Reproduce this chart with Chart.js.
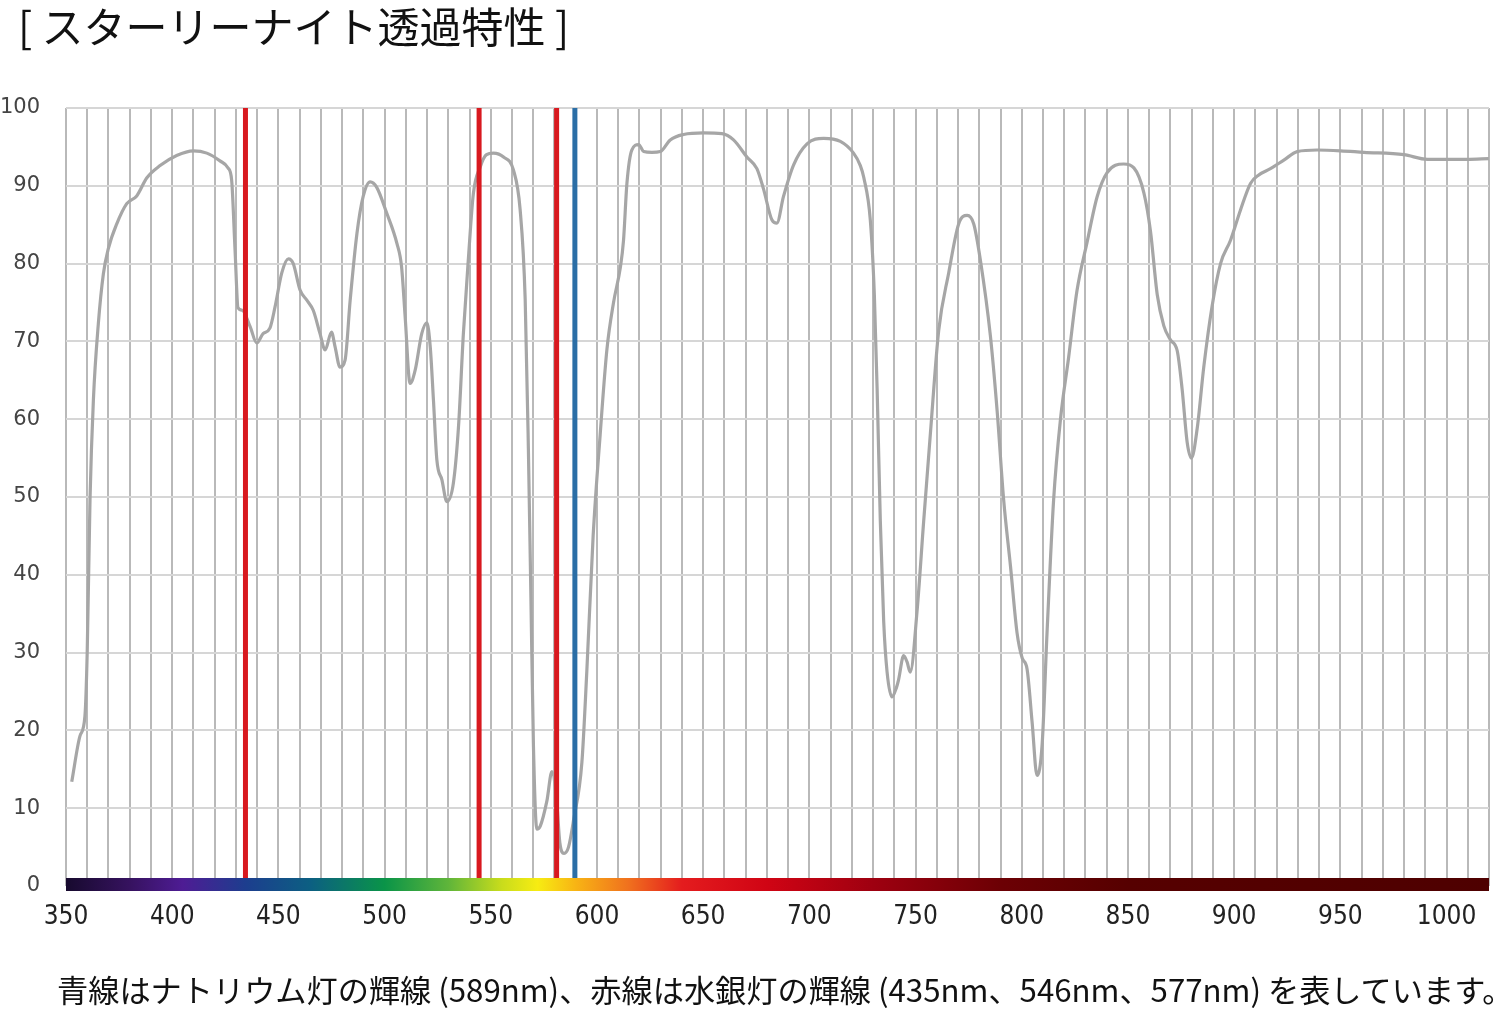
<!DOCTYPE html>
<html>
<head>
<meta charset="utf-8">
<script src="https://cdn.jsdelivr.net/npm/chart.js@4.4.1/dist/chart.umd.min.js"></script>
<style>
  html, body { margin: 0; padding: 0; background: #ffffff; }
  #wrap { position: relative; width: 1500px; height: 1009px; overflow: hidden; }
  #c { position: absolute; left: 0; top: 0; }
  #title { position: absolute; left: 18px; top: 0px; font-family: "Noto Sans CJK JP", sans-serif; font-size: 42px; line-height: 50px; color: #111; white-space: nowrap; }
  #note { position: absolute; left: 57px; top: 969px; font-family: "Noto Sans CJK JP", sans-serif; font-size: 31.2px; line-height: 40px; color: #111; white-space: nowrap; }
</style>
</head>
<body>
<div id="wrap">
  <canvas id="c" width="1500" height="1009"></canvas>
  <div id="title">[ スターリーナイト透過特性 ]</div>
  <div id="note">青線はナトリウム灯の輝線 (589nm)、赤線は水銀灯の輝線 (435nm、546nm、577nm) を表しています。</div>
</div>
<script>
// ---- data ----
const wavelengths = [
  352.7, 356.6, 358.9, 360, 361.3, 362.9, 365.2, 367.6, 369.9, 373.9, 378.6, 383.3, 388, 394.3, 402.1, 410, 416.3, 422.5,
  426.3, 428, 429.6, 431, 433, 436.7, 439.8, 442.8, 446, 448.4, 451.6, 454.7, 457, 460.2, 463.4, 466.4, 469.6, 472, 475,
  476.7, 479, 481.4, 483.8, 487, 489.9, 493.2, 496.3, 501, 505.8, 508, 509.7, 512, 514.4, 517.5, 519.9, 521.5, 523, 524.6,
  527, 529.3, 532.4, 534.8, 537.1, 539.5, 541.8, 545, 548, 551.3, 556, 560.7, 563.8, 566.2, 567.7, 568.9, 570.1, 571.7,
  573.3, 576.4, 578.8, 581, 582.5, 584.5, 586.6, 589, 592.9, 595.2, 598.2, 601.5, 604.7, 607.8, 611, 612.5, 614.1, 616.4, 619.6,
  622, 625.9, 629.8, 634.5, 640.8, 650.2, 658.8, 664.3, 670.6, 675.3, 678.4, 682.4, 684.7, 687.8, 692.6, 698.9, 706.7,
  714.6, 720.8, 724, 725.6, 728.7, 730.6, 731.9, 733.4, 735, 736.6, 738.9, 741, 742, 744.4, 746, 747.5, 750.7, 753.8, 757,
  760.9, 765.6, 770.3, 774.3, 777.4, 780.5, 785.2, 788.4, 791.5, 794.7, 797.8, 800.2, 802.5, 804.9, 807.2, 809.6, 811.9,
  815, 818.2, 822.1, 826, 830.8, 835.5, 840.2, 848, 852.8, 857.5, 860.6, 863.8, 866.9, 870, 873.2, 875.5, 877.9, 879.9,
  882.6, 885.7, 889.6, 893.6, 898.3, 903, 907.7, 911.6, 917.1, 923.4, 929.7, 939.1, 950.1, 961.1, 979.9, 991, 1009.7, 1019.9
];
const transmission = [
  13.4, 19.3, 21.8, 30.2, 49.6, 62.5, 72.2, 78.7, 81.9, 85.1, 87.7, 88.7, 91, 92.6, 93.9, 94.5, 94.2, 93.2,
  92.3, 90.7, 81.7, 74.3, 74, 71.9, 69.8, 71, 71.7, 74.4, 78.8, 80.6, 80, 76.6, 75.3, 74, 71, 68.9, 71.2,
  69.3, 66.7, 67.6, 75.3, 83.9, 88.6, 90.5, 89.8, 86.5, 82.6, 79.6, 73.1, 64.6, 66.3, 71, 72.4, 69.3, 62.5, 54.8,
  52.2, 49.4, 51.8, 59, 71, 80.8, 89, 92.4, 94, 94.2, 93.7, 92, 87, 75.4, 56.3, 37, 17.9, 7.3,
  7.7, 10.9, 14.7, 11, 5.6, 4.2, 5, 8.5, 15.9, 27.5, 45, 58, 69, 75, 79.5, 83, 90.3, 94.6, 95.3,
  94.4, 94.3, 94.4, 95.9, 96.6, 96.8, 96.7, 95.9, 93.7, 92.2, 89.6, 85.6, 85.2, 88.6, 92.7, 95.4, 96.1,
  95.7, 94.2, 92.6, 91.1, 85.6, 76, 64, 47, 34, 27.5, 24.3, 25.5, 26.5, 29.6, 28.8, 27.5, 35.3, 46.8, 58.2,
  71.4, 78.8, 85.1, 86.2, 85.1, 80.5, 70.8, 61.1, 49.6, 41.1, 32.5, 29.3, 27.9, 21, 14.2, 18.2, 32.5,
  49.6, 59.9, 68, 76.5, 82.8, 88.6, 91.7, 92.8, 92.3, 89.1, 84.2, 76, 72, 70.2, 68.8, 63.9, 57, 55,
  58.8, 66.7, 74.5, 80, 83, 86.9, 90.3, 91.4, 92.2, 93.3, 94.4, 94.6, 94.5, 94.3, 94, 93.4, 93.4, 93.5
];
// emission-line markers, at the positions where they are drawn in the reference
const mercuryLines = [434.5, 544.5, 581];   // red
const sodiumLines = [589.6];                // blue
const xLabelTicks = [350, 400, 450, 500, 550, 600, 650, 700, 750, 800, 850, 900, 950, 1000];
const yTicks = [0, 10, 20, 30, 40, 50, 60, 70, 80, 90, 100];
// spectrum bar colour stops (nm, colour)
const spectrumNm = [350, 380, 405, 435, 465, 500, 530, 555, 572, 590, 615, 640, 680, 730, 790, 850, 1020];
const spectrumColors = ['#170a2e', '#36125f', '#4e1c94', '#1c3e8e', '#0c5f82', '#0a9448', '#5fb53a', '#c8dc1c', '#f7ec12',
  '#f8b414', '#f0701e', '#e41c1e', '#d00414', '#9e0010', '#6c0004', '#560000', '#4e0000'];

const X_MIN = 350, X_MAX = 1020;

const curve = wavelengths.map((x, i) => ({ x: x, y: transmission[i] }));
const vline = (nm) => [{ x: nm, y: 0 }, { x: nm, y: 100 }];

const datasets = [];
mercuryLines.forEach(nm => datasets.push({ data: vline(nm), borderColor: '#d8191f', borderWidth: 5, pointRadius: 0, order: 0, borderCapStyle: 'butt' }));
sodiumLines.forEach(nm => datasets.push({ data: vline(nm), borderColor: '#2b6ea6', borderWidth: 5, pointRadius: 0, order: 0, borderCapStyle: 'butt' }));
datasets.push({ data: curve, borderColor: '#a6a6a6', borderWidth: 3.2, pointRadius: 0, tension: 0.4, cubicInterpolationMode: 'monotone', order: 1 });

const spectrumPlugin = {
  id: 'spectrum',
  afterDatasetsDraw(chart) {
    const xs = chart.scales.x, ys = chart.scales.y, ctx = chart.ctx;
    const x0 = xs.getPixelForValue(X_MIN), x1 = xs.getPixelForValue(X_MAX);
    const yb = ys.getPixelForValue(0);
    const g = ctx.createLinearGradient(x0, 0, x1, 0);
    spectrumNm.forEach((nm, i) => g.addColorStop((nm - X_MIN) / (X_MAX - X_MIN), spectrumColors[i]));
    ctx.save();
    ctx.fillStyle = g;
    ctx.fillRect(x0, yb - 8, x1 - x0, 13);
    ctx.restore();
  }
};

new Chart(document.getElementById('c'), {
  type: 'line',
  data: { datasets: datasets },
  plugins: [spectrumPlugin],
  options: {
    responsive: false,
    animation: false,
    devicePixelRatio: 1,
    layout: { padding: { top: 108, right: 11, left: 0, bottom: 0 } },
    plugins: { legend: { display: false }, tooltip: { enabled: false }, title: { display: false } },
    scales: {
      x: {
        type: 'linear', min: X_MIN, max: X_MAX,
        afterFit(s) { s.height = 123; s.paddingLeft = 0; s.paddingRight = 0; },
        afterBuildTicks(s) { const t = []; for (let v = X_MIN; v <= X_MAX; v += 10) t.push({ value: v }); s.ticks = t; },
        ticks: {
          autoSkip: false, maxRotation: 0, padding: 16, color: '#222',
          font: { family: "'DejaVu Sans Condensed', sans-serif", size: 26 },
          callback: (v) => xLabelTicks.includes(v) ? String(v) : ''
        },
        grid: { color: '#b9b9b9', lineWidth: 2, drawTicks: false, tickLength: 0 },
        border: { display: false }
      },
      y: {
        min: 0, max: 100,
        afterFit(s) { s.width = 66; s.paddingTop = 0; s.paddingBottom = 0; },
        afterBuildTicks(s) { s.ticks = yTicks.map(v => ({ value: v })); },
        ticks: {
          padding: 26, color: '#444',
          font: { family: "'DejaVu Sans', sans-serif", size: 21 }
        },
        grid: { color: '#d6d6d6', lineWidth: 2, drawTicks: false, tickLength: 0 },
        border: { display: false }
      }
    }
  }
});
</script>
</body>
</html>
